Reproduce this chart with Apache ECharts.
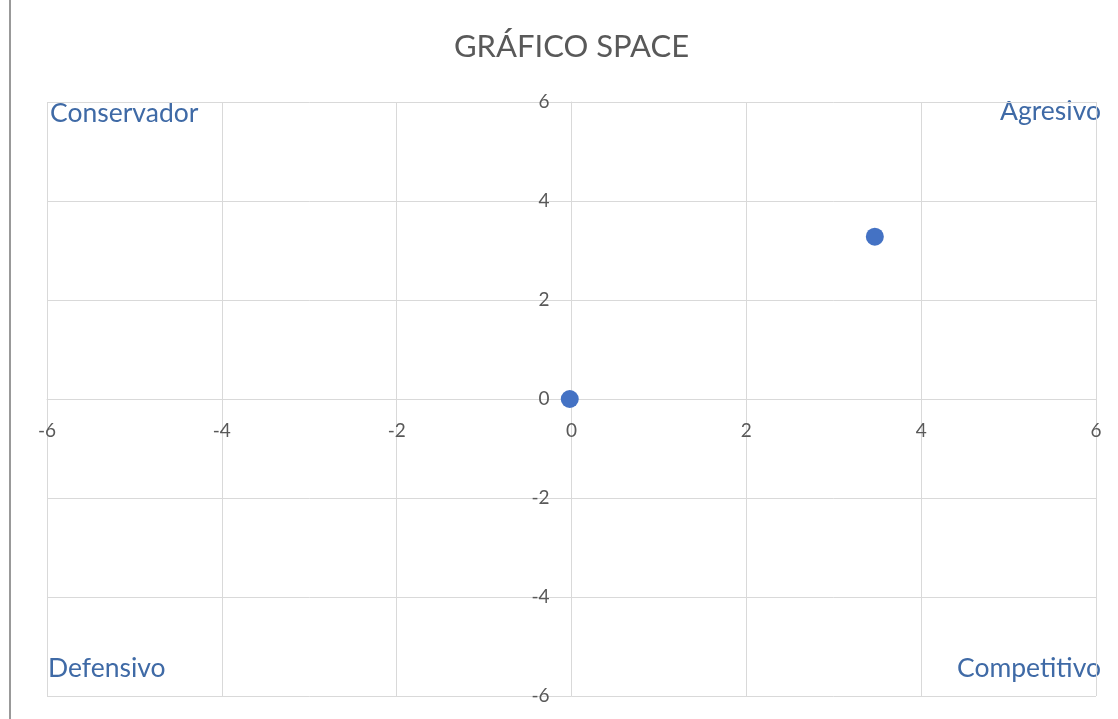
<!DOCTYPE html>
<html><head><meta charset="utf-8">
<script src="https://cdn.jsdelivr.net/npm/echarts@6/dist/echarts.min.js"></script>
<style>html,body{margin:0;padding:0;background:#fff}#c{width:1118px;height:719px}</style>
</head><body><div id="c"></div>
<script>
const titleText = "GRÁFICO SPACE";
const xValues = [-0.02, 3.47];
const yValues = [0.0, 3.28];
const axisMin = -6, axisMax = 6, axisStep = 2;
const quadrantLabels = ["Conservador", "Agresivo", "Defensivo", "Competitivo"];

const FONT = "Lato";
const GRID = {left: 47, right: 22, top: 102, bottom: 23};
const W = 1118, H = 719;
const gw = W - GRID.left - GRID.right, gh = H - GRID.top - GRID.bottom;
const chart = echarts.init(document.getElementById('c'), null, {renderer: 'canvas'});
const points = xValues.map((x, i) => [x, yValues[i]]);
const gridLine = {lineStyle: {color: '#d9d9d9', width: 1}};
const qStyle = {fill: '#3f6aa6', fontSize: 26.5, fontFamily: FONT};
chart.setOption({
  animation: false,
  backgroundColor: '#fff',
  grid: Object.assign({containLabel: false}, GRID),
  xAxis: {type: 'value', min: axisMin, max: axisMax, interval: axisStep,
    position: 'bottom', offset: -gh / 2,
    axisLine: {onZero: false, lineStyle: {color: '#d9d9d9'}}, axisTick: {show: false},
    splitLine: gridLine,
    axisLabel: {color: '#595959', fontSize: 19, fontFamily: FONT, margin: 22, showMinLabel: true, showMaxLabel: true}},
  yAxis: {type: 'value', min: axisMin, max: axisMax, interval: axisStep,
    position: 'left', offset: -gw / 2,
    axisLine: {onZero: false, lineStyle: {color: '#d9d9d9'}}, axisTick: {show: false},
    splitLine: gridLine,
    axisLabel: {color: '#595959', fontSize: 19, fontFamily: FONT, margin: 22}},
  series: [{type: 'scatter', data: points, symbolSize: 18,
    itemStyle: {color: '#4472c4', opacity: 1}}],
  graphic: [
    {type: 'line', shape: {x1: 10, y1: 0, x2: 10, y2: 719}, style: {stroke: '#999999', lineWidth: 2}},
    {type: 'text', x: GRID.left + gw / 2, y: 47, style: {text: titleText, fill: '#595959', fontSize: 31,
      fontFamily: FONT, textAlign: 'center', textVerticalAlign: 'middle'}},
    {type: 'text', left: 50, top: 100, style: Object.assign({text: quadrantLabels[0]}, qStyle)},
    {type: 'text', right: 17, top: 98, style: Object.assign({text: quadrantLabels[1]}, qStyle)},
    {type: 'text', left: 48, top: 655, style: Object.assign({text: quadrantLabels[2]}, qStyle)},
    {type: 'text', right: 17, top: 655, style: Object.assign({text: quadrantLabels[3]}, qStyle)}
  ]
});
</script></body></html>
